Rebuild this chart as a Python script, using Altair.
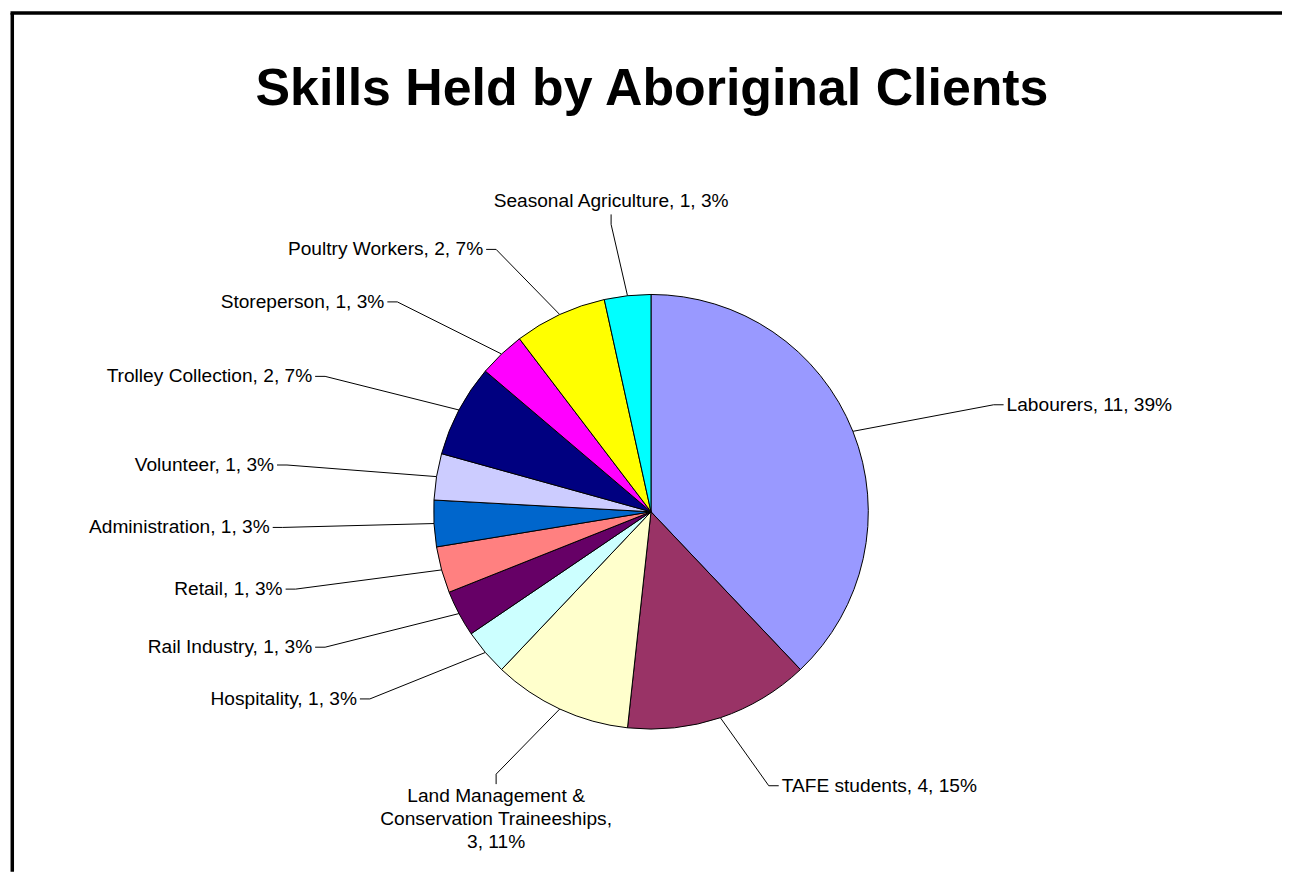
import math
import textwrap
import altair as alt
import pandas as pd

# ---- data ----
names = ["Labourers", "TAFE students", "Land Management & Conservation Traineeships",
         "Hospitality", "Rail Industry", "Retail", "Administration", "Volunteer",
         "Trolley Collection", "Storeperson", "Poultry Workers", "Seasonal Agriculture"]
values = [11, 4, 3, 1, 1, 1, 1, 1, 2, 1, 2, 1]
percent_labels = ["39%", "15%", "11%", "3%", "3%", "3%", "3%", "3%", "7%", "3%", "7%", "3%"]
colors = ["#9999FF", "#993366", "#FFFFCC", "#CCFFFF", "#660066", "#FF8080",
          "#0066CC", "#CCCCFF", "#000080", "#FF00FF", "#FFFF00", "#00FFFF"]
title_text = "Skills Held by Aboriginal Clients"

# ---- layout constants ----
W, H = 1276, 865
CX, CY = 643, 504          # pie centre (pixels in plot area)
R = 218                    # pie radius
RX, RY = 370, 290          # label elbow ellipse
TICK, GAP = 10, 3
FONT = "Liberation Sans"
LABEL_SIZE = 19.2

total = sum(values)
pie_rows, lead_rows, text_rows = [], [], []
cum = 0
for i, (n, v, p) in enumerate(zip(names, values, percent_labels)):
    pie_rows.append({"name": n, "value": v, "idx": i, "cx": CX, "cy": CY})
    th = 2 * math.pi * (cum + v / 2) / total
    cum += v
    deg = math.degrees(th)
    s, c = math.sin(th), math.cos(th)
    px, py = CX + R * s, CY - R * c
    ex, ey = CX + RX * s, CY - RY * c
    if deg >= 345 or deg <= 15:
        place = "top"
        tx, ty = ex, ey - TICK
        lx, ly = ex, ey - TICK - GAP
    elif 180 <= deg <= 225:
        place = "bottom"
        tx, ty = ex, ey + TICK
        lx, ly = ex, ey + TICK + GAP
    elif deg < 180:
        place = "right"
        tx, ty = ex + TICK, ey
        lx, ly = ex + TICK + GAP, ey
    else:
        place = "left"
        tx, ty = ex - TICK, ey
        lx, ly = ex - TICK - GAP, ey
    for k, (xx, yy) in enumerate([(px, py), (ex, ey), (tx, ty)]):
        lead_rows.append({"name": n, "pt": k, "x": xx, "y": yy})
    label = f"{n}, {v}, {p}"
    if len(label) > 40:
        label = "\n".join(textwrap.wrap(label, 26))
    text_rows.append({"name": n, "label": label, "x": lx, "y": ly, "place": place})

pie_df = pd.DataFrame(pie_rows)
lead_df = pd.DataFrame(lead_rows)
text_df = pd.DataFrame(text_rows)

xs = alt.Scale(domain=[0, W], nice=False, zero=False)
ys = alt.Scale(domain=[0, H], nice=False, zero=False, reverse=True)

pie = alt.Chart(pie_df).mark_arc(radius=R, stroke="black", strokeWidth=1).encode(
    theta=alt.Theta("value:Q", stack=True),
    color=alt.Color("name:N", scale=alt.Scale(domain=names, range=colors), legend=None),
    order=alt.Order("idx:Q", sort="ascending"),
    x=alt.X("cx:Q", scale=xs, axis=None),
    y=alt.Y("cy:Q", scale=ys, axis=None),
)

leaders = alt.Chart(lead_df).mark_line(color="black", strokeWidth=1).encode(
    x=alt.X("x:Q", scale=xs, axis=None),
    y=alt.Y("y:Q", scale=ys, axis=None),
    detail="name:N",
    order="pt:Q",
)

def text_layer(place, align, baseline):
    return alt.Chart(text_df).transform_filter(
        alt.datum.place == place
    ).mark_text(align=align, baseline=baseline, font=FONT, fontSize=LABEL_SIZE,
                color="black", lineBreak="\n", lineHeight=23).encode(
        x=alt.X("x:Q", scale=xs, axis=None),
        y=alt.Y("y:Q", scale=ys, axis=None),
        text="label:N",
    )

labels_left = text_layer("left", "right", "middle")
labels_right = text_layer("right", "left", "middle")
labels_top = text_layer("top", "center", "bottom")
labels_bottom = text_layer("bottom", "center", "top")

title_df = pd.DataFrame({"t": [title_text], "x": [644], "y": [96]})
title = alt.Chart(title_df).mark_text(font=FONT, fontSize=52, fontWeight="bold",
                                       baseline="alphabetic", align="center",
                                       color="black").encode(
    x=alt.X("x:Q", scale=xs, axis=None),
    y=alt.Y("y:Q", scale=ys, axis=None),
    text="t:N",
)

frame_df = pd.DataFrame({"x": [2.3, 0.5], "x2": [2.3, W], "y": [3.7, 3.7], "y2": [H, 3.7]})
frame = alt.Chart(frame_df).mark_rule(color="black", strokeWidth=3.5).encode(
    x=alt.X("x:Q", scale=xs, axis=None), x2="x2:Q",
    y=alt.Y("y:Q", scale=ys, axis=None), y2="y2:Q",
)

chart = alt.layer(frame, title, leaders, pie, labels_left, labels_right,
                  labels_top, labels_bottom).properties(
    width=W, height=H, padding=0, background="white"
).configure_view(stroke=None)

chart.save("out.html", embed_options={"renderer": "svg", "actions": False})
